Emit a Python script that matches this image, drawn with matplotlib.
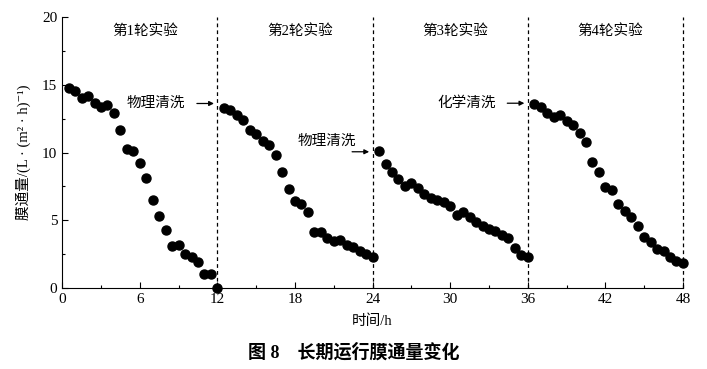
import numpy as np
import matplotlib.pyplot as plt

plt.rcParams['font.family'] = ['Liberation Serif', 'Noto Sans CJK SC', 'DejaVu Serif']

# time (h) and membrane flux for each of the 4 runs
t1 = [0.5, 1.0, 1.5, 2.0, 2.5, 3.0, 3.5, 4.0, 4.5, 5.0, 5.5, 6.0,
      6.5, 7.0, 7.5, 8.0, 8.5, 9.0, 9.5, 10.0, 10.5, 11.0, 11.5, 12.0]
f1 = [14.8, 14.55, 14.0, 14.2, 13.7, 13.4, 13.5, 12.9, 11.7, 10.3, 10.1, 9.2,
      8.1, 6.5, 5.3, 4.3, 3.1, 3.2, 2.5, 2.3, 1.9, 1.0, 1.0, 0.0]
t2 = [12.5, 13.0, 13.5, 14.0, 14.5, 15.0, 15.5, 16.0, 16.5, 17.0, 17.5, 18.0,
      18.5, 19.0, 19.5, 20.0, 20.5, 21.0, 21.5, 22.0, 22.5, 23.0, 23.5, 24.0]
f2 = [13.3, 13.15, 12.8, 12.4, 11.65, 11.4, 10.85, 10.55, 9.8, 8.6, 7.3, 6.4,
      6.2, 5.6, 4.1, 4.1, 3.7, 3.45, 3.55, 3.2, 3.0, 2.75, 2.5, 2.3]
t3 = [24.5, 25.0, 25.5, 26.0, 26.5, 27.0, 27.5, 28.0, 28.5, 29.0, 29.5, 30.0,
      30.5, 31.0, 31.5, 32.0, 32.5, 33.0, 33.5, 34.0, 34.5, 35.0, 35.5, 36.0]
f3 = [10.15, 9.15, 8.55, 8.05, 7.55, 7.75, 7.4, 6.95, 6.65, 6.5, 6.35, 6.05,
      5.35, 5.6, 5.25, 4.9, 4.55, 4.35, 4.2, 3.9, 3.7, 2.95, 2.45, 2.3]
t4 = [36.5, 37.0, 37.5, 38.0, 38.5, 39.0, 39.5, 40.0, 40.5, 41.0, 41.5, 42.0,
      42.5, 43.0, 43.5, 44.0, 44.5, 45.0, 45.5, 46.0, 46.5, 47.0, 47.5, 48.0]
f4 = [13.6, 13.4, 12.95, 12.65, 12.8, 12.3, 12.05, 11.45, 10.75, 9.3, 8.6, 7.45,
      7.2, 6.2, 5.65, 5.2, 4.6, 3.75, 3.4, 2.85, 2.75, 2.3, 1.95, 1.8]

run_labels = ['第1轮实验', '第2轮实验', '第3轮实验', '第4轮实验']
run_ends = [12, 24, 36, 48]

fig = plt.figure(figsize=(7.07, 3.69), dpi=100)
ax = fig.add_axes([0.088, 0.22, 0.878, 0.733])

for t, f in [(t1, f1), (t2, f2), (t3, f3), (t4, f4)]:
    ax.plot(t, f, 'o', color='black', markersize=6.5, clip_on=False, zorder=3)

for x in run_ends:
    ax.axvline(x, color='black', linestyle=(0, (3, 2.5)), linewidth=0.9,
               clip_on=False)

for i, lab in enumerate(run_labels):
    ax.text(run_ends[i] - 5.6, 19.0, lab, ha='center', va='center', fontsize=10.5)

arrow = dict(arrowstyle='-|>', color='black', lw=0.9, mutation_scale=7)
ax.annotate('', xy=(11.95, 13.63), xytext=(10.2, 13.63), arrowprops=arrow)
ax.text(7.25, 13.63, '物理清洗', ha='center', va='center', fontsize=10.5)
ax.annotate('', xy=(23.95, 10.06), xytext=(22.2, 10.06), arrowprops=arrow)
ax.text(20.5, 10.85, '物理清洗', ha='center', va='center', fontsize=10.5)
ax.annotate('', xy=(35.95, 13.65), xytext=(34.2, 13.65), arrowprops=arrow)
ax.text(31.25, 13.65, '化学清洗', ha='center', va='center', fontsize=10.5)

ax.set_xlim(0, 48)
ax.set_ylim(0, 20)
ax.set_xticks([0, 6, 12, 18, 24, 30, 36, 42, 48])
ax.set_xticks([3, 9, 15, 21, 27, 33, 39, 45], minor=True)
ax.set_yticks([0, 5, 10, 15, 20])
ax.set_yticks([2.5, 7.5, 12.5, 17.5], minor=True)
ax.tick_params(direction='in', which='major', length=4, width=0.8, labelsize=11)
ax.tick_params(direction='in', which='minor', length=2.5, width=0.8)
ax.spines['top'].set_visible(False)
ax.spines['right'].set_visible(False)

ax.set_xlabel('时间/h', fontsize=10.5, labelpad=6)
ax.set_ylabel('膜通量/(L · (m² · h)⁻¹)', fontsize=10.5, labelpad=8)

fig.text(0.5, 0.045, '图 8    长期运行膜通量变化', ha='center', va='center',
         fontsize=13, fontweight='bold')

plt.savefig('out.png', dpi=100)
